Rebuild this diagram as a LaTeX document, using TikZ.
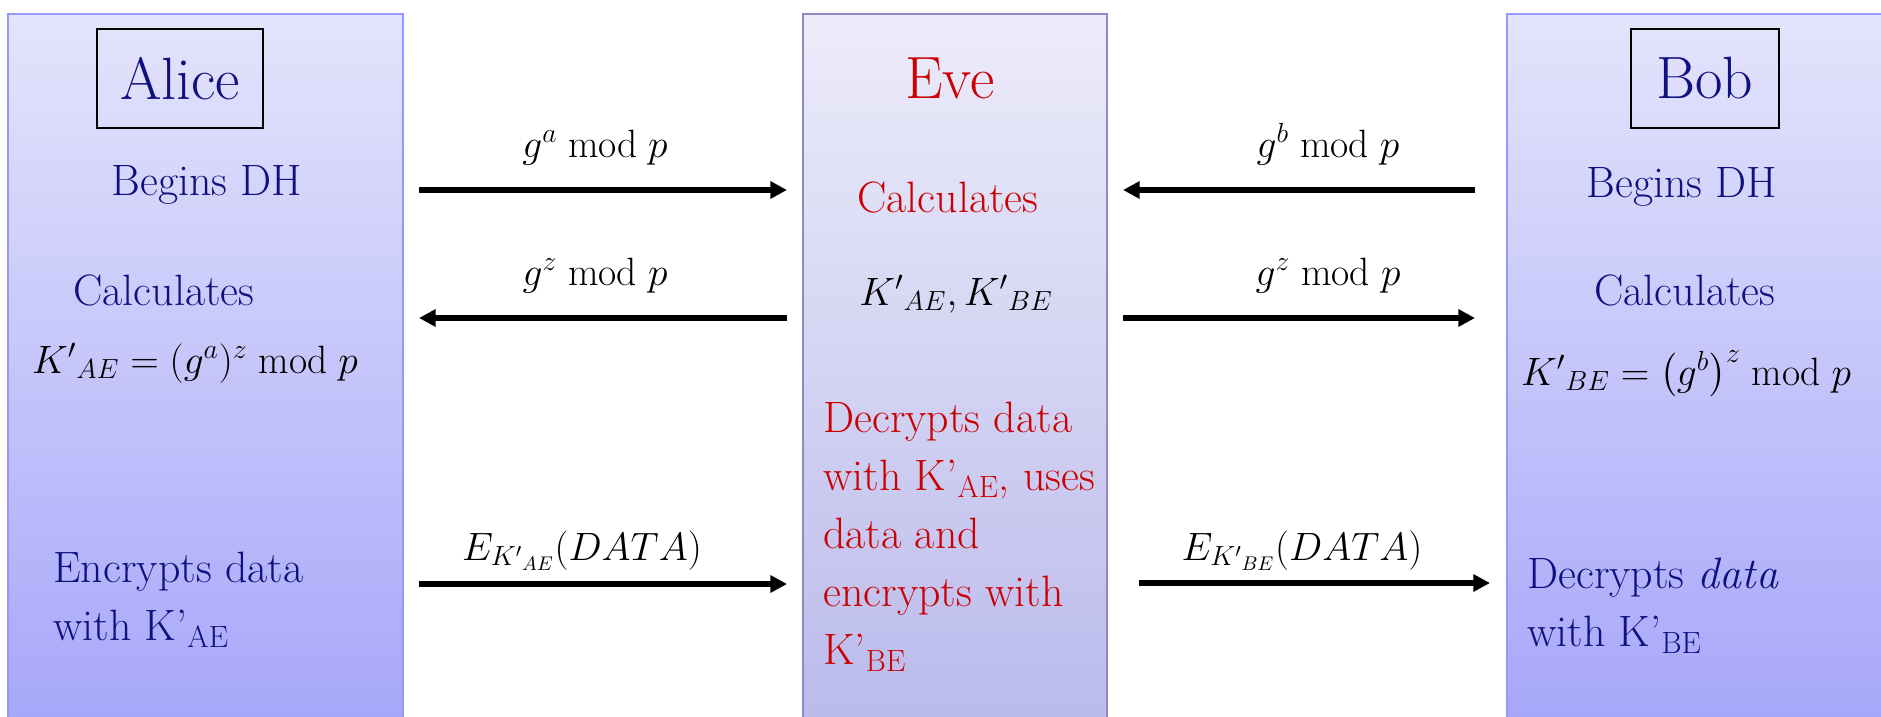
\RequirePackage{fix-cm}
\documentclass[tikz,border=0pt]{standalone}
\usepackage{fontspec}
\usepackage{amsmath}
\usepackage{tikz}
\usetikzlibrary{positioning,arrows.meta}

\definecolor{navytext}{RGB}{16,16,128}
\definecolor{evered}{RGB}{204,0,0}
\definecolor{paneltop}{RGB}{228,228,252}
\definecolor{panelbot}{RGB}{166,166,250}
\definecolor{evetop}{RGB}{236,236,250}
\definecolor{evebot}{RGB}{186,186,236}
\definecolor{panelline}{RGB}{150,150,255}
\definecolor{eveline}{RGB}{140,140,192}

\begin{document}
\begin{tikzpicture}[
  x=0.02cm, y=-0.02cm,
  panel/.style={draw=panelline, line width=1pt, top color=paneltop, bottom color=panelbot},
  evepanel/.style={draw=eveline, line width=1pt, top color=evetop, bottom color=evebot},
  namebox/.style={draw, line width=0.8pt, inner sep=0pt, text=navytext, font=\fontsize{34}{40}\selectfont},
  txt/.style={inner sep=0pt, anchor=base, text=navytext, font=\fontsize{25}{33}\selectfont},
  evetxt/.style={txt, text=evered},
  mth/.style={inner sep=0pt, anchor=base, font=\fontsize{22.5}{30}\selectfont},
  arr/.style={-{Triangle[length=9.5pt,width=9.5pt]}, line width=3pt}
]
\useasboundingbox (0,0) rectangle (1881,717);
\clip (0,0) rectangle (1881,717);

% the three parties
\draw[panel] (8,14) rectangle (403,730);
\draw[evepanel] (803,14) rectangle (1107,730);
\draw[panel] (1507,14) rectangle (1895,730);

% Alice
\node[namebox, minimum width=94.5pt, minimum height=56.3pt] (alice) at (180,78.5) {Alice};
\node[txt] (abegin) at (207,195) {Begins DH};
\node[txt] (acalc) at (164,305) {Calculates};
\node[mth] (akey) at (195,373) {${K'}_{AE} = (g^{a})^{z} \bmod p$};
\node[txt, anchor=north west, align=left] (aenc) at (53,552) {Encrypts data\\with K'\textsubscript{AE}};

% Eve
\node[evetxt, font=\fontsize{34}{40}\selectfont] (eve) at (950,98) {Eve};
\node[evetxt] (ecalc) at (948,212) {Calculates};
\node[mth] (ekeys) at (956,305) {${K'}_{AE}, {K'}_{BE}$};
\node[evetxt, anchor=north west, align=left] (edec) at (823,402) {Decrypts data\\with K'\textsubscript{AE}, uses\\data and\\encrypts with\\K'\textsubscript{BE}};

% Bob
\node[namebox, minimum width=84.2pt, minimum height=56.3pt] (bob) at (1705,78.5) {Bob};
\node[txt] (bbegin) at (1682,197) {Begins DH};
\node[txt] (bcalc) at (1685,305) {Calculates};
\node[mth] (bkey) at (1686,385) {${K'}_{BE} = \left(g^{b}\right)^{z} \bmod p$};
\node[txt, anchor=north west, align=left] (bdec) at (1527,558) {Decrypts \textit{data}\\with K'\textsubscript{BE}};

% messages
\node[mth] (ga) at (595,157) {$g^{a} \bmod p$};
\node[mth] (gza) at (595,285) {$g^{z} \bmod p$};
\node[mth] (eae) at (582,560) {$E_{{K'}_{AE}}(DATA)$};
\node[mth] (gb) at (1328,157) {$g^{b} \bmod p$};
\node[mth] (gzb) at (1328,285) {$g^{z} \bmod p$};
\node[mth] (ebe) at (1302,560) {$E_{{K'}_{BE}}(DATA)$};

\coordinate (al1) at (419,190);
\coordinate (ev1) at (787,190);
\coordinate (al2) at (419,318);
\coordinate (ev2) at (787,318);
\coordinate (al3) at (419,584);
\coordinate (ev3) at (787,584);
\coordinate (eb1) at (1123,190);
\coordinate (bo1) at (1475,190);
\coordinate (eb2) at (1123,318);
\coordinate (bo2) at (1475,318);
\coordinate (eb3) at (1139,583);
\coordinate (bo3) at (1490,583);

\draw[arr] (al1) -- (ev1);
\draw[arr] (ev2) -- (al2);
\draw[arr] (al3) -- (ev3);
\draw[arr] (bo1) -- (eb1);
\draw[arr] (eb2) -- (bo2);
\draw[arr] (eb3) -- (bo3);
\end{tikzpicture}
\end{document}
